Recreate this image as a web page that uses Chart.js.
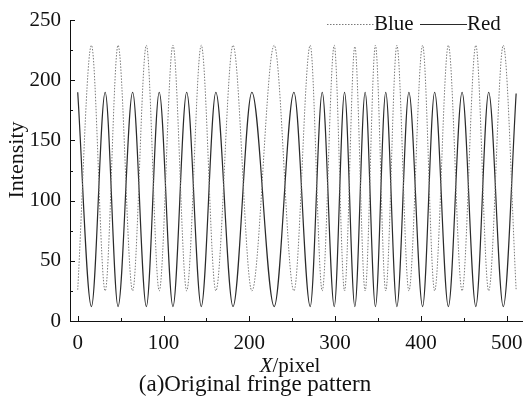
<!DOCTYPE html>
<html>
<head>
<meta charset="utf-8">
<script src="https://cdn.jsdelivr.net/npm/chart.js@4/dist/chart.umd.min.js"></script>
<style>
    html, body { margin: 0; padding: 0; background: #fff; }
    #wrap { width: 523px; height: 406px; }
</style>
</head>
<body>
<div id="wrap"><canvas id="fringe" width="523" height="406"></canvas></div>
<script>
// pixel positions of the fringe extremes (peaks / troughs)
const extremaX = [0, 16, 32, 47, 64, 80, 95, 111, 127, 144, 161, 181, 203, 229, 252, 271, 285,
    299, 311, 323, 335, 347, 359, 372, 386, 402, 416, 432, 448, 464, 479, 496, 511];

// intensity at those positions
const redY = [190, 12, 190, 12, 190, 12, 190, 12, 190, 12, 190, 12, 190, 12, 190, 12, 190,
    12, 190, 12, 190, 12, 190, 12, 190, 12, 190, 12, 190, 12, 190, 12, 189];
const blueY = [26, 229, 25, 229, 25, 229, 25, 229, 25, 229, 25, 229, 25, 229, 25, 229, 25,
    229, 25, 228, 25, 229, 25, 229, 25, 229, 25, 229, 25, 229, 25, 229, 26];

const xTicks = [0, 100, 200, 300, 400, 500];
const xMinorTicks = [50, 150, 250, 350, 450];
const yTicks = [0, 50, 100, 150, 200, 250];
const yMinorTicks = [25, 75, 125, 175, 225];

const FONT = '"Liberation Serif", "Times New Roman", serif';
const INK = '#111';

function toPoints(xs, ys) {
    return xs.map((x, i) => ({ x, y: ys[i] }));
}

const decorations = {
    id: 'decorations',
    afterDraw(chart) {
        const { ctx, chartArea } = chart;
        const xs = chart.scales.x;
        const ys = chart.scales.y;

        ctx.save();
        ctx.strokeStyle = INK;
        ctx.lineWidth = 1;

        // inward tick marks
        const tick = (x1, y1, x2, y2) => {
            ctx.beginPath();
            ctx.moveTo(x1, y1);
            ctx.lineTo(x2, y2);
            ctx.stroke();
        };
        xTicks.forEach((v) => {
            const px = Math.round(xs.getPixelForValue(v)) + 0.5;
            tick(px, chartArea.bottom, px, chartArea.bottom - 5);
        });
        xMinorTicks.forEach((v) => {
            const px = Math.round(xs.getPixelForValue(v)) + 0.5;
            tick(px, chartArea.bottom, px, chartArea.bottom - 3);
        });
        yTicks.forEach((v) => {
            const py = Math.round(ys.getPixelForValue(v)) + 0.5;
            tick(chartArea.left, py, chartArea.left + 5, py);
        });
        yMinorTicks.forEach((v) => {
            const py = Math.round(ys.getPixelForValue(v)) + 0.5;
            tick(chartArea.left, py, chartArea.left + 3, py);
        });

        // tick labels
        ctx.fillStyle = INK;
        ctx.font = `21px ${FONT}`;
        ctx.textBaseline = 'middle';
        ctx.textAlign = 'right';
        yTicks.forEach((v) => ctx.fillText(String(v), chartArea.left - 9, ys.getPixelForValue(v)));
        ctx.textAlign = 'center';
        xTicks.forEach((v) => ctx.fillText(String(v), xs.getPixelForValue(v), 343));

        // y title
        ctx.save();
        ctx.translate(17, 160);
        ctx.rotate(-Math.PI / 2);
        ctx.font = `22px ${FONT}`;
        ctx.fillText('Intensity', 0, 0);
        ctx.restore();

        // x title, italic X
        ctx.font = `italic 21px ${FONT}`;
        const wX = ctx.measureText('X').width;
        ctx.font = `21px ${FONT}`;
        const wRest = ctx.measureText('/pixel').width;
        const left = 290 - (wX + wRest) / 2;
        ctx.textAlign = 'left';
        ctx.font = `italic 21px ${FONT}`;
        ctx.fillText('X', left, 366);
        ctx.font = `21px ${FONT}`;
        ctx.fillText('/pixel', left + wX, 366);

        // caption
        ctx.textAlign = 'center';
        ctx.font = `23px ${FONT}`;
        ctx.fillText('(a)Original fringe pattern', 255, 385);

        // legend
        const ly = 24.5;
        chart.data.datasets.forEach((ds, i) => {
            const x0 = i === 0 ? 327 : 420;
            ctx.save();
            ctx.strokeStyle = ds.borderColor;
            ctx.lineWidth = ds.borderWidth;
            ctx.setLineDash(ds.borderDash || []);
            tick(x0, ly, x0 + 47, ly);
            ctx.restore();
            ctx.textAlign = 'left';
            ctx.font = `21px ${FONT}`;
            ctx.fillText(ds.label, x0 + 47, ly);
        });

        ctx.restore();
    },
};

new Chart(document.getElementById('fringe').getContext('2d'), {
    type: 'line',
    data: {
        datasets: [
            {
                label: 'Blue',
                data: toPoints(extremaX, blueY),
                borderColor: '#7a7a7a',
                borderWidth: 1,
                borderDash: [1.5, 1.5],
                pointRadius: 0,
                cubicInterpolationMode: 'monotone',
            },
            {
                label: 'Red',
                data: toPoints(extremaX, redY),
                borderColor: '#2a2a2a',
                borderWidth: 1.2,
                pointRadius: 0,
                cubicInterpolationMode: 'monotone',
            },
        ],
    },
    options: {
        responsive: false,
        animation: false,
        layout: { padding: { top: 20, left: 0, right: 0, bottom: 0 } },
        plugins: {
            legend: { display: false },
            tooltip: { enabled: false },
        },
        scales: {
            x: {
                type: 'linear',
                min: -9,
                max: 519,
                grid: { display: false, drawTicks: false },
                border: { display: true, color: INK, width: 1 },
                ticks: { display: false },
                afterFit: (s) => { s.height = 85; },
            },
            y: {
                min: 0,
                max: 250,
                grid: { display: false, drawTicks: false },
                border: { display: true, color: INK, width: 1 },
                ticks: { display: false },
                afterFit: (s) => { s.width = 70; },
            },
        },
    },
    plugins: [decorations],
});
</script>
</body>
</html>
